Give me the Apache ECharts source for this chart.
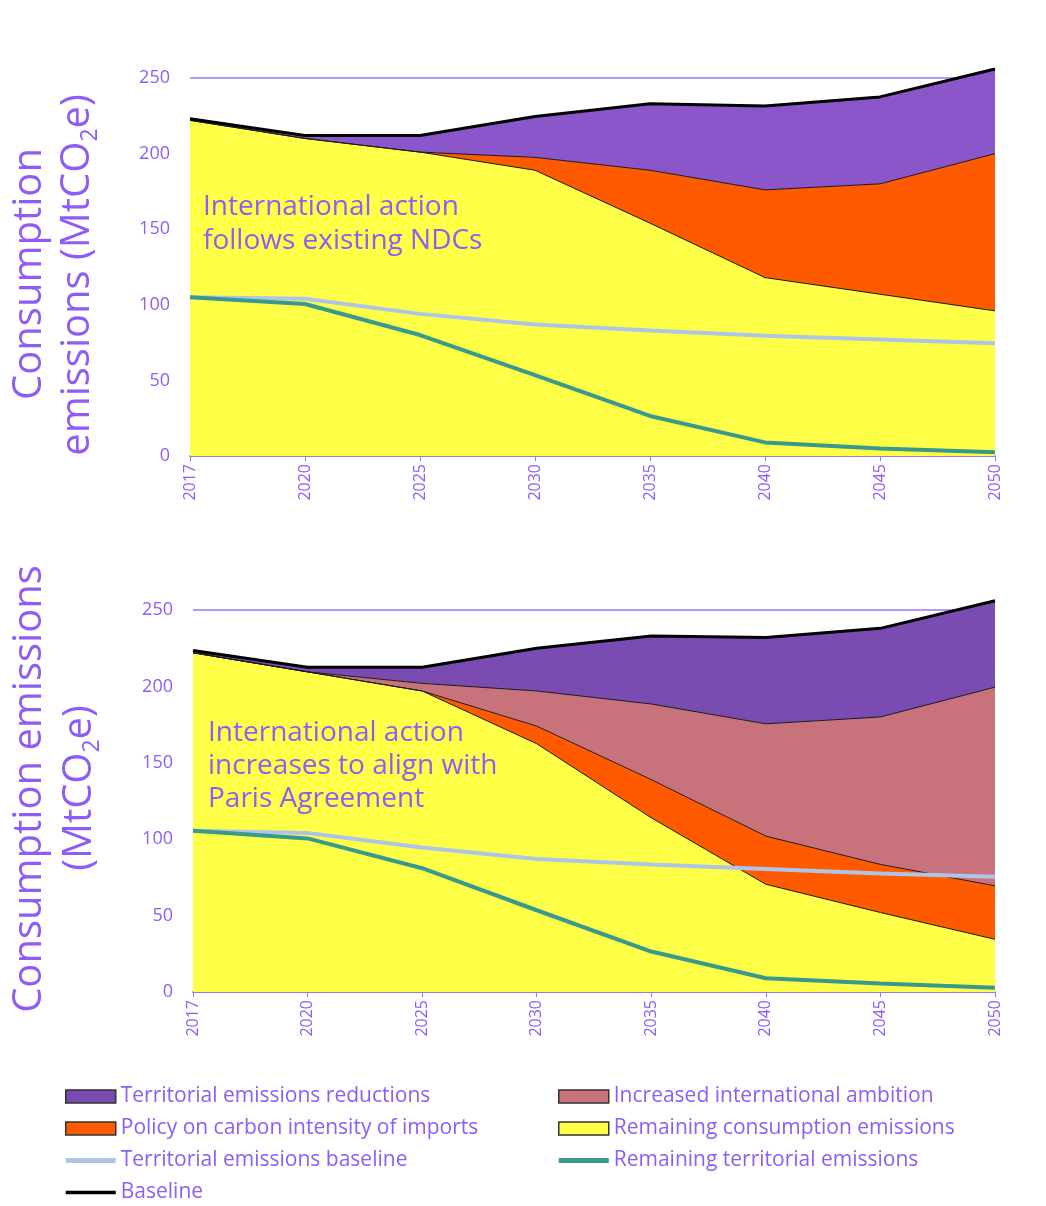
<!DOCTYPE html>
<html><head><meta charset="utf-8">
<script src="https://cdn.jsdelivr.net/npm/echarts@6/dist/echarts.min.js"></script>
<style>html,body{margin:0;padding:0;background:#fff}#c{width:1046px;height:1206px}</style>
</head><body><div id="c"></div>
<script>
const years = ['2017','2020','2025','2030','2035','2040','2045','2050'];
const yTicks = [0, 50, 100, 150, 200, 250];

// Scenario 1: International action follows existing NDCs
const ndcRemainingConsumption = [222, 210, 201, 189, 154, 118, 107, 96];
const ndcImportPolicy = [0, 0, 0, 8.5, 35, 58, 73, 104];
const ndcTerritorialReductions = [1, 2, 11, 27, 44, 55.5, 57.5, 56];
const ndcBaseline = [223, 212, 212, 224.5, 233, 231.5, 237.5, 256];
const ndcTerritorialBaseline = [105, 104, 94, 87, 83, 79.5, 77, 74.5];
const ndcRemainingTerritorial = [105, 100.5, 80, 53.5, 26.5, 9, 5, 2.5];

// Scenario 2: International action increases to align with Paris Agreement
const parisRemainingConsumption = [222, 209.5, 197, 162.5, 114, 70.5, 52, 34.5];
const parisImportPolicy = [0, 0, 0, 11.5, 25, 31.5, 31.5, 35];
const parisIncreasedAmbition = [0, 0, 5, 23, 49.5, 73.5, 96.5, 130];
const parisTerritorialReductions = [1.5, 3, 10.5, 28, 44.5, 56.5, 58, 56.5];
const parisBaseline = [223.5, 212.5, 212.5, 225, 233, 232, 238, 256];
const parisTerritorialBaseline = [105.5, 104, 94.5, 87, 83.5, 80.5, 77.5, 75.5];
const parisRemainingTerritorial = [105.5, 100.5, 81, 53.5, 26.5, 9, 5.5, 2.8];

const TXT = '#8f5cf7';
const FONT = 'Open Sans';
const C_PURPLE1 = '#8a56c9', C_PURPLE2 = '#7a4bb0', C_ORANGE = '#ff5a00', C_PINK = '#c8737b',
      C_YELLOW = '#ffff47', C_LBLUE = '#aec5e8', C_TEAL = '#389a8d';

const N = {
  red: 'Territorial emissions reductions', pol: 'Policy on carbon intensity of imports',
  tb: 'Territorial emissions baseline', base: 'Baseline',
  amb: 'Increased international ambition', rc: 'Remaining consumption emissions',
  rt: 'Remaining territorial emissions'
};

function area(name, data, color, gi, stack) {
  return { name, type: 'line', data, xAxisIndex: gi, yAxisIndex: gi, stack, symbol: 'none', clip: false,
    lineStyle: { color: '#1a1a1a', width: 1 }, itemStyle: { color },
    areaStyle: { color, opacity: 1 }, emphasis: { disabled: true }, z: 2 };
}
function line(name, data, color, width, gi, z) {
  return { name, type: 'line', data, xAxisIndex: gi, yAxisIndex: gi, symbol: 'none', clip: false,
    lineStyle: { color, width }, itemStyle: { color }, emphasis: { disabled: true }, z };
}

const xAx = gi => ({ type: 'category', data: years, gridIndex: gi, boundaryGap: false,
  axisLine: { lineStyle: { color: '#9a78f0', width: 2 } },
  axisTick: { show: true, length: 5, alignWithLabel: true, lineStyle: { color: '#9a78f0' } },
  axisLabel: { rotate: 90, color: TXT, fontFamily: FONT, fontSize: 16, margin: 8 } });
const yAx = gi => ({ type: 'value', gridIndex: gi, min: yTicks[0], max: yTicks[yTicks.length-1], interval: 50,
  axisLine: { show: false }, axisTick: { show: false },
  axisLabel: { color: TXT, fontFamily: FONT, fontSize: 18, margin: 20 },
  splitLine: { lineStyle: { color: '#9a78f0', width: 1.5 } } });

const titleRich = { a: { fontSize: 40, fontFamily: FONT, color: TXT, lineHeight: 48 },
                    s: { fontSize: 23, fontFamily: FONT, color: TXT, lineHeight: 48, verticalAlign: 'bottom' } };
function vText(x, y, text) {
  return { type: 'text', x, y, rotation: Math.PI / 2,
    style: { text, rich: titleRich, align: 'center', verticalAlign: 'middle', fill: TXT, font: '40px ' + FONT } };
}

const legText = { color: TXT, fontFamily: FONT, fontSize: 21 };
const box = (name, color) => ({ name, icon: 'rect', itemStyle: { color, borderColor: '#333', borderWidth: 1.5 } });
const bar = (name, color, h) => ({ name, icon: 'path://M0,0M50,13M0,' + (6.5 - h / 2) + 'h50v' + h + 'h-50z',
  itemStyle: { color, borderWidth: 0 } });

const option = {
  animation: false,
  backgroundColor: '#fff',
  grid: [
    { left: 190, right: 51, top: 78, height: 378 },
    { left: 193, right: 51, top: 610, height: 382 }
  ],
  xAxis: [xAx(0), xAx(1)],
  yAxis: [yAx(0), yAx(1)],
  legend: [
    { orient: 'vertical', left: 65, top: 1086, padding: 0, itemWidth: 50, itemHeight: 13, itemGap: 11,
      textStyle: legText, selectedMode: false,
      data: [box(N.red, C_PURPLE2), box(N.pol, C_ORANGE), bar(N.tb, C_LBLUE, 5), bar(N.base, '#000', 3.5)] },
    { orient: 'vertical', left: 558, top: 1086, padding: 0, itemWidth: 50, itemHeight: 13, itemGap: 11,
      textStyle: legText, selectedMode: false,
      data: [box(N.amb, C_PINK), box(N.rc, C_YELLOW), bar(N.rt, C_TEAL, 5)] }
  ],
  graphic: [
    vText(30, 274, '{a|Consumption}'),
    vText(78, 275, '{a|emissions (MtCO}{s|2}{a|e)}'),
    vText(30, 789, '{a|Consumption emissions}'),
    vText(80, 788, '{a|(MtCO}{s|2}{a|e)}'),
    { type: 'text', left: 203, top: 190, z: 10,
      style: { text: 'International action\nfollows existing NDCs', fill: TXT, font: '28px ' + FONT, lineHeight: 34 } },
    { type: 'text', left: 208, top: 717, z: 10,
      style: { text: 'International action\nincreases to align with\nParis Agreement', fill: TXT, font: '28px ' + FONT, lineHeight: 33 } }
  ],
  series: [
    area(N.rc, ndcRemainingConsumption, C_YELLOW, 0, 'ndc'),
    area(N.pol, ndcImportPolicy, C_ORANGE, 0, 'ndc'),
    area(N.red, ndcTerritorialReductions, C_PURPLE1, 0, 'ndc'),
    line(N.tb, ndcTerritorialBaseline, C_LBLUE, 4, 0, 4),
    line(N.rt, ndcRemainingTerritorial, C_TEAL, 4, 0, 5),
    line(N.base, ndcBaseline, '#000', 3, 0, 6),

    area(N.rc, parisRemainingConsumption, C_YELLOW, 1, 'paris'),
    area(N.pol, parisImportPolicy, C_ORANGE, 1, 'paris'),
    area(N.amb, parisIncreasedAmbition, C_PINK, 1, 'paris'),
    area(N.red, parisTerritorialReductions, C_PURPLE2, 1, 'paris'),
    line(N.tb, parisTerritorialBaseline, C_LBLUE, 4, 1, 4),
    line(N.rt, parisRemainingTerritorial, C_TEAL, 4, 1, 5),
    line(N.base, parisBaseline, '#000', 3, 1, 6)
  ]
};
const chart = echarts.init(document.getElementById('c'), null, { renderer: 'canvas' });
chart.setOption(option);
</script></body></html>
